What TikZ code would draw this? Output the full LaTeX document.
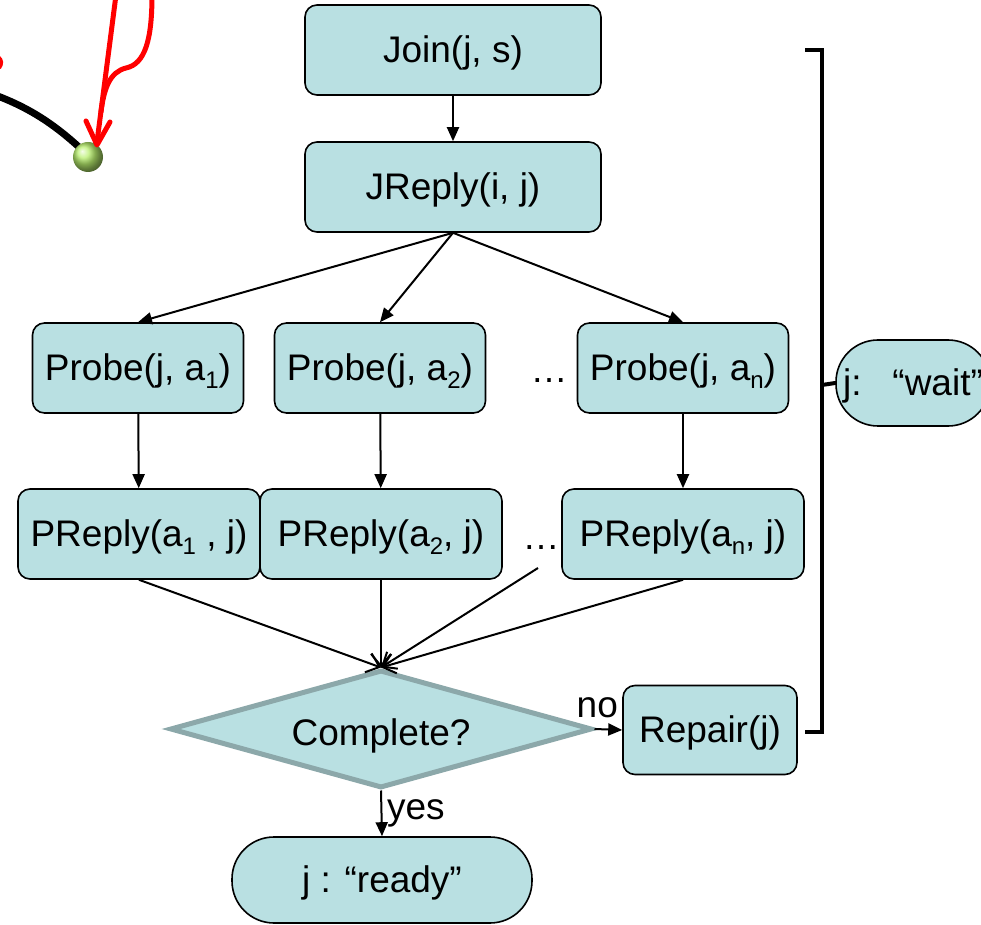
\documentclass[tikz,border=0pt]{standalone}
\usepackage{fontspec}
\setmainfont{Liberation Sans}
\usetikzlibrary{shapes.geometric,arrows.meta}

\definecolor{boxfill}{RGB}{185,224,226}
\definecolor{rimgray}{RGB}{140,168,170}
\definecolor{ballgreen}{RGB}{185,240,110}

\tikzset{
  box/.style={draw, fill=boxfill, rounded corners=6pt, line width=0.8pt, inner sep=0pt,
    text height=16.6pt, text depth=3.9pt},
  probebox/.style={box, minimum width=105.5pt, minimum height=45pt},
  replybox/.style={box, minimum width=121pt, minimum height=45pt},
  endbox/.style={box, rounded corners=21pt, minimum height=43pt},
  flow/.style={line width=1pt, -{Triangle[length=7pt,width=6pt]}},
  merge/.style={line width=1pt, -{Straight Barb[length=6pt,width=10pt]}}
}
\newcommand{\subidx}[1]{\raisebox{-0.22em}{\fontsize{12}{14}\selectfont #1}}

\begin{document}
\begin{tikzpicture}[x=0.5pt, y=-0.5pt, font=\fontsize{18.5}{22}\selectfont]
  \useasboundingbox (0,0) rectangle (981,925);

  % sketch remnant top left
  \draw[line width=3.5pt, line cap=round] (-5,95) .. controls (30,108) and (55,125) .. (80,148);
  \shade[ball color=ballgreen] (88,157) circle[radius=7.5pt];
  \draw[red, line width=2.5pt, line cap=round, line join=round] (116,-5) -- (97,142);
  \draw[red, line width=2.5pt, line cap=round, line join=round] (86,121) -- (97,145) -- (110,122);
  \draw[red, line width=2.5pt, line cap=round] (152,-5) .. controls (152,40) and (145,64) .. (126,68)
    .. controls (110,72) and (104,88) .. (101,112);
  \draw[red, line width=2pt] (-2,57) .. controls (2,60) and (2,64) .. (-1,68);

  \node[box, minimum width=148pt, minimum height=45pt] (join) at (453,50) {Join(j, s)};
  \node[box, minimum width=148pt, minimum height=45pt] (jrep) at (453,187) {JReply(i, j)};

  \node[probebox] (p1) at (138,368) {Probe(j, a\subidx{1})};
  \node[probebox] (p2) at (380,368) {Probe(j, a\subidx{2})};
  \node (dotsA) at (549,381) {…};
  \node[probebox] (pn) at (683,368) {Probe(j, a\subidx{n})};

  \node[replybox] (r1) at (139,534) {PReply(a\subidx{1} , j)};
  \node[replybox] (r2) at (381,534) {PReply(a\subidx{2}, j)};
  \node (dotsB) at (541,548) {…};
  \node[replybox] (rn) at (683,534) {PReply(a\subidx{n}, j)};
  \coordinate (dotend) at (538,568);

  \node[diamond, draw=rimgray, fill=boxfill, line width=2.5pt, inner sep=0pt,
        minimum width=211pt, minimum height=59pt] (cmp) at (381,729) {};
  \node at (381,736) {Complete?};

  \node[box, minimum width=87pt, minimum height=44.5pt] (rep) at (710,730) {Repair(j)};
  \node[endbox, minimum width=150pt] (ready) at (382,880) {j : “ready”};
  \node[endbox, minimum width=77pt] (wait) at (913,383) {j:\ \ \ “wait”};

  \draw[flow] (join) -- (jrep);
  \draw[flow] (jrep.south) -- (p1.north);
  \draw[flow] (jrep.south) -- (p2.north);
  \draw[flow] (jrep.south) -- (pn.north);
  \draw[flow] (p1) -- (r1);
  \draw[flow] (p2) -- (r2);
  \draw[flow] (pn) -- (rn);

  \draw[merge] (r1.south) -- (cmp.north);
  \draw[merge] (r2.south) -- (cmp.north);
  \draw[merge] (dotend) -- (cmp.north);
  \draw[merge] (rn.south) -- (cmp.north);

  \draw[flow] (cmp.east) -- (rep.west) node[pos=0.1, above=2pt] {no};
  \draw[flow] (cmp.south) -- (ready.north) node[midway, right=-1pt] {yes};

  % bracket
  \draw[line width=2pt] (805,50) -- (822,50) -- (822,732) -- (805,732);
  \coordinate (brk) at (822,385);
  \draw[line width=2pt] (brk) -- (wait.west);
\end{tikzpicture}
\end{document}
